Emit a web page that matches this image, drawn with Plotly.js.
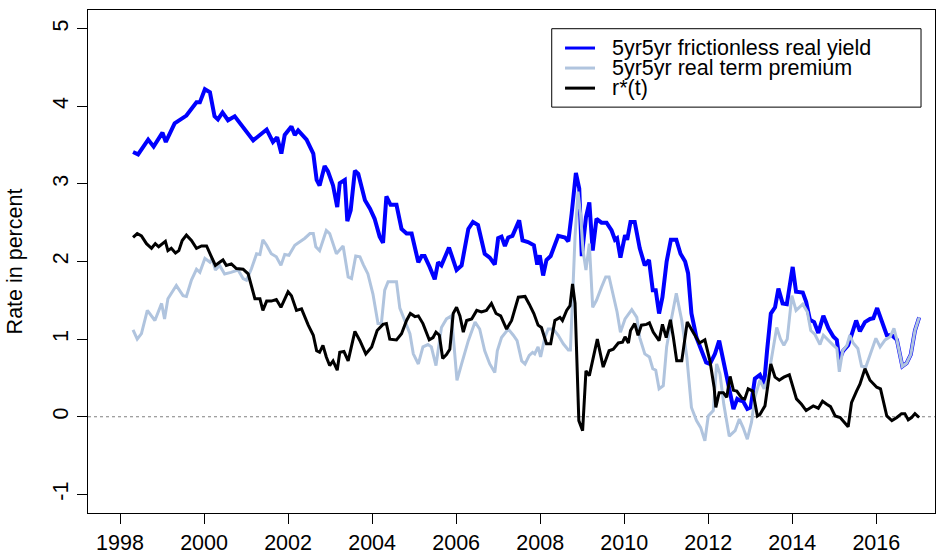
<!DOCTYPE html>
<html>
<head>
<meta charset="utf-8">
<script src="https://cdn.plot.ly/plotly-3.0.1.min.js"></script>
<style>html,body{margin:0;padding:0;background:#fff;}#chart{width:940px;height:550px;}</style>
</head>
<body>
<div id="chart"></div>
<script>
// ---- data (decimal years, percent) ----
var yieldDates = [1998.31,1998.43,1998.67,1998.80,1999.01,1999.09,1999.30,1999.58,1999.82,1999.90,2000.02,2000.14,2000.25,2000.33,2000.44,2000.57,2000.73,2000.93,2001.17,2001.49,2001.64,2001.74,2001.84,2001.92,2002.08,2002.16,2002.24,2002.44,2002.60,2002.68,2002.75,2002.87,2002.95,2003.07,2003.17,2003.23,2003.35,2003.41,2003.49,2003.59,2003.67,2003.83,2003.95,2004.06,2004.18,2004.26,2004.34,2004.44,2004.58,2004.70,2004.82,2004.94,2005.10,2005.18,2005.25,2005.37,2005.49,2005.57,2005.65,2005.83,2006.01,2006.13,2006.29,2006.40,2006.52,2006.68,2006.80,2006.92,2007.00,2007.08,2007.16,2007.24,2007.34,2007.50,2007.58,2007.71,2007.85,2007.93,2007.99,2008.07,2008.15,2008.25,2008.43,2008.59,2008.67,2008.75,2008.85,2008.93,2008.99,2009.09,2009.17,2009.25,2009.34,2009.46,2009.58,2009.70,2009.78,2009.83,2009.91,2010.02,2010.07,2010.15,2010.25,2010.37,2010.49,2010.59,2010.68,2010.75,2010.83,2010.91,2011.01,2011.11,2011.24,2011.34,2011.45,2011.52,2011.60,2011.72,2011.84,2011.95,2012.04,2012.16,2012.26,2012.34,2012.42,2012.50,2012.60,2012.69,2012.75,2012.83,2012.93,2013.01,2013.11,2013.23,2013.33,2013.40,2013.49,2013.59,2013.67,2013.77,2013.87,2014.01,2014.09,2014.25,2014.33,2014.42,2014.52,2014.62,2014.74,2014.86,2014.98,2015.06,2015.12,2015.21,2015.33,2015.41,2015.52,2015.61,2015.73,2015.85,2015.93,2016.02,2016.13,2016.25,2016.37,2016.49,2016.62,2016.72,2016.82,2016.92,2017.02];
var yieldValues = [3.41,3.38,3.57,3.48,3.66,3.54,3.78,3.88,4.05,4.05,4.22,4.18,3.87,3.83,3.92,3.82,3.87,3.72,3.56,3.70,3.54,3.60,3.39,3.63,3.74,3.63,3.69,3.57,3.39,3.05,2.98,3.23,3.16,2.98,2.70,3.01,3.05,2.52,2.66,3.17,3.13,2.79,2.68,2.55,2.32,2.24,2.84,2.73,2.73,2.42,2.36,2.36,1.99,2.07,2.07,1.93,1.77,1.99,1.95,2.18,1.89,1.95,2.42,2.51,2.47,2.10,2.05,1.96,2.30,2.32,2.20,2.31,2.33,2.53,2.27,2.25,2.21,1.96,2.08,1.82,2.02,2.07,2.33,2.31,2.26,2.62,3.14,2.94,2.07,2.57,2.76,2.14,2.55,2.50,2.50,2.40,2.28,2.30,2.05,2.34,2.28,2.51,2.51,2.17,1.95,2.02,1.63,1.63,1.33,1.54,2.00,2.28,2.28,2.10,2.00,1.85,1.33,1.02,0.85,0.70,0.68,0.81,0.98,0.77,0.51,0.34,0.10,0.23,0.21,0.20,0.10,0.12,0.49,0.54,0.42,0.85,1.33,1.41,1.65,1.46,1.45,1.93,1.61,1.60,1.48,1.25,1.22,1.08,1.30,1.14,1.03,0.99,0.73,0.85,0.92,1.05,1.24,1.10,1.22,1.26,1.27,1.40,1.22,1.05,1.05,0.99,0.65,0.69,0.80,1.11,1.28];

var premiumDates = [1998.31,1998.41,1998.51,1998.65,1998.83,1998.99,1999.06,1999.14,1999.34,1999.50,1999.58,1999.70,1999.82,1999.90,2000.02,2000.14,2000.19,2000.27,2000.37,2000.49,2000.64,2000.81,2000.93,2001.01,2001.13,2001.25,2001.33,2001.40,2001.49,2001.60,2001.72,2001.83,2001.92,2002.02,2002.16,2002.32,2002.40,2002.52,2002.60,2002.66,2002.75,2002.91,2002.99,2003.15,2003.31,2003.43,2003.51,2003.61,2003.71,2003.79,2003.90,2004.02,2004.14,2004.22,2004.30,2004.38,2004.58,2004.66,2004.78,2004.90,2004.98,2005.10,2005.21,2005.33,2005.41,2005.52,2005.65,2005.77,2005.89,2005.95,2006.02,2006.13,2006.29,2006.45,2006.56,2006.68,2006.80,2006.92,2006.98,2007.08,2007.24,2007.36,2007.45,2007.56,2007.64,2007.74,2007.82,2007.87,2007.95,2008.01,2008.11,2008.19,2008.31,2008.43,2008.55,2008.67,2008.72,2008.83,2008.90,2008.96,2009.02,2009.09,2009.17,2009.25,2009.34,2009.46,2009.56,2009.64,2009.74,2009.83,2009.91,2010.02,2010.18,2010.30,2010.37,2010.49,2010.60,2010.68,2010.75,2010.83,2010.93,2011.01,2011.13,2011.24,2011.37,2011.49,2011.60,2011.72,2011.82,2011.92,2012.00,2012.12,2012.20,2012.28,2012.37,2012.50,2012.64,2012.74,2012.83,2012.93,2013.03,2013.11,2013.23,2013.33,2013.43,2013.53,2013.63,2013.72,2013.80,2013.88,2013.99,2014.09,2014.25,2014.36,2014.44,2014.54,2014.66,2014.74,2014.86,2014.98,2015.06,2015.12,2015.20,2015.30,2015.37,2015.45,2015.56,2015.65,2015.75,2015.85,2015.99,2016.09,2016.21,2016.33,2016.42,2016.49,2016.62,2016.72,2016.82,2016.92,2017.02];
var premiumValues = [1.12,1.00,1.07,1.37,1.24,1.46,1.26,1.52,1.69,1.56,1.55,1.76,1.90,1.86,2.04,1.99,2.04,1.89,1.95,1.84,1.86,1.89,1.78,1.76,1.91,2.10,2.09,2.28,2.21,2.10,2.06,1.95,2.09,2.08,2.21,2.27,2.30,2.36,2.36,2.19,2.14,2.40,2.36,2.10,2.20,1.80,1.78,2.07,2.06,1.96,1.84,1.58,1.20,1.20,1.63,1.74,1.74,1.40,1.24,1.07,0.81,0.68,0.90,0.93,0.90,0.66,1.15,1.26,1.30,0.90,0.47,0.68,0.98,1.22,1.13,0.85,0.68,0.57,0.85,1.02,1.13,1.05,0.98,0.72,0.68,0.79,0.83,0.81,0.90,0.77,1.02,1.13,1.13,1.05,0.94,0.86,0.86,2.32,2.90,2.62,2.14,1.89,2.23,1.41,1.50,1.67,1.80,1.80,1.54,1.35,1.09,1.26,1.38,1.28,1.02,0.81,0.77,0.62,0.60,0.36,0.40,0.90,1.28,1.59,1.24,0.77,0.12,-0.05,-0.14,-0.31,0.01,0.08,0.68,0.55,0.16,-0.25,-0.18,-0.03,-0.14,-0.29,-0.07,0.25,0.47,0.36,0.51,0.81,1.15,1.00,0.92,1.00,1.56,1.37,1.45,1.35,1.11,1.06,0.93,1.05,0.98,0.92,0.88,0.58,0.85,0.92,1.05,0.95,0.88,0.65,0.64,0.79,1.01,0.90,0.99,1.03,1.14,0.99,0.65,0.69,0.80,1.11,1.28];

var rstarDates = [1998.31,1998.41,1998.51,1998.63,1998.75,1998.84,1998.92,1999.08,1999.14,1999.22,1999.32,1999.40,1999.48,1999.58,1999.70,1999.82,1999.94,2000.06,2000.16,2000.27,2000.37,2000.45,2000.53,2000.65,2000.77,2000.93,2001.05,2001.13,2001.21,2001.33,2001.40,2001.49,2001.60,2001.72,2001.83,2002.00,2002.08,2002.20,2002.32,2002.48,2002.60,2002.68,2002.75,2002.83,2002.91,2002.99,2003.07,2003.17,2003.23,2003.33,2003.43,2003.59,2003.71,2003.85,2003.99,2004.12,2004.26,2004.34,2004.42,2004.58,2004.70,2004.82,2004.91,2005.02,2005.10,2005.21,2005.36,2005.45,2005.52,2005.60,2005.68,2005.77,2005.85,2005.93,2006.01,2006.09,2006.17,2006.25,2006.37,2006.49,2006.60,2006.72,2006.84,2006.95,2007.06,2007.20,2007.32,2007.48,2007.64,2007.74,2007.85,2007.95,2008.03,2008.15,2008.25,2008.35,2008.47,2008.53,2008.63,2008.71,2008.77,2008.83,2008.88,2008.92,2009.01,2009.09,2009.17,2009.36,2009.50,2009.64,2009.74,2009.86,2009.96,2010.02,2010.10,2010.15,2010.25,2010.33,2010.41,2010.53,2010.60,2010.69,2010.83,2010.91,2011.00,2011.10,2011.17,2011.25,2011.37,2011.50,2011.64,2011.79,2011.92,2012.04,2012.14,2012.18,2012.26,2012.36,2012.44,2012.52,2012.60,2012.68,2012.80,2012.87,2012.95,2013.06,2013.17,2013.23,2013.35,2013.49,2013.59,2013.69,2013.80,2013.93,2014.10,2014.22,2014.33,2014.50,2014.62,2014.72,2014.82,2014.91,2015.02,2015.14,2015.33,2015.41,2015.53,2015.61,2015.73,2015.85,2016.01,2016.10,2016.25,2016.37,2016.49,2016.60,2016.68,2016.76,2016.84,2016.92,2017.02];
var rstarValues = [2.31,2.36,2.33,2.23,2.17,2.23,2.19,2.26,2.14,2.17,2.11,2.14,2.27,2.34,2.27,2.17,2.20,2.20,2.08,1.95,1.99,2.02,1.95,1.97,1.91,1.90,1.84,1.69,1.52,1.52,1.37,1.49,1.49,1.51,1.41,1.61,1.56,1.37,1.39,1.18,1.05,0.85,0.83,0.92,0.77,0.66,0.72,0.60,0.83,0.84,0.72,1.10,0.98,0.81,0.90,1.11,1.19,1.20,1.00,0.99,1.07,1.24,1.33,1.29,1.30,1.20,0.99,1.02,1.09,1.05,0.75,0.80,0.87,1.33,1.41,1.30,1.09,1.24,1.26,1.37,1.35,1.37,1.46,1.33,1.30,1.13,1.24,1.54,1.55,1.45,1.33,1.18,1.15,0.94,0.94,1.24,1.28,1.24,1.37,1.43,1.71,1.46,0.64,-0.05,-0.18,0.59,0.53,1.00,0.64,0.85,0.87,0.95,0.96,1.03,0.95,1.11,1.20,1.05,1.18,1.19,1.21,1.09,0.98,1.19,1.02,1.25,1.02,0.72,0.72,1.22,1.09,0.95,0.99,0.72,0.38,0.12,0.31,0.31,0.25,0.52,0.34,0.33,0.24,0.23,0.36,0.33,0.01,0.03,0.14,0.68,0.51,0.47,0.51,0.54,0.23,0.16,0.08,0.14,0.11,0.20,0.16,0.13,0.01,-0.01,-0.13,0.18,0.33,0.42,0.62,0.47,0.38,0.36,0.01,-0.05,-0.01,0.04,0.04,-0.04,-0.01,0.04,-0.01];

var seriesNames = ['5yr5yr frictionless real yield', '5yr5yr real term premium', 'r*(t)'];
var seriesColors = ['#0000FF', '#B0C4DE', '#000000'];
var seriesWidths = [4, 3, 3];
var xTickVals = [1998, 2000, 2002, 2004, 2006, 2008, 2010, 2012, 2014, 2016];
var yTickVals = [-1, 0, 1, 2, 3, 4, 5];

var FONT = 'Liberation Sans, Arial, Helvetica, sans-serif';
var FS = 21.5;

var traces = [
  {x: yieldDates, y: yieldValues},
  {x: premiumDates, y: premiumValues},
  {x: rstarDates, y: rstarValues}
].map(function (d, i) {
  return {
    x: d.x, y: d.y, type: 'scatter', mode: 'lines', name: seriesNames[i],
    line: {color: seriesColors[i], width: seriesWidths[i], shape: 'linear'},
    showlegend: false, hoverinfo: 'x+y+name'
  };
});

// manual R-style legend (paper coordinates)
var lgX0 = 0.5475, lgX1 = 0.9835, lgY0 = 0.8069, lgY1 = 0.9628;
var lgRows = [0.9244, 0.8846, 0.8447];
var shapes = [
  {type: 'line', xref: 'paper', yref: 'y', x0: 0, x1: 1, y0: 0, y1: 0,
   line: {color: '#808080', width: 1, dash: 'dot'}, layer: 'below'},
  {type: 'rect', xref: 'paper', yref: 'paper', x0: lgX0, x1: lgX1, y0: lgY0, y1: lgY1,
   line: {color: '#000000', width: 1}, fillcolor: 'rgba(255,255,255,1)'}
];
var annotations = [];
for (var i = 0; i < 3; i++) {
  shapes.push({type: 'line', xref: 'paper', yref: 'paper', x0: 0.5632, x1: 0.5986,
    y0: lgRows[i], y1: lgRows[i], line: {color: seriesColors[i], width: 3}});
  annotations.push({xref: 'paper', yref: 'paper', x: 0.6163, y: lgRows[i],
    xanchor: 'left', yanchor: 'middle', showarrow: false, text: seriesNames[i],
    font: {family: FONT, size: FS, color: '#000'}});
}

var layout = {
  width: 940, height: 550,
  margin: {l: 88, r: 5, t: 10, b: 37, pad: 0},
  paper_bgcolor: '#fff', plot_bgcolor: '#fff',
  font: {family: FONT, size: FS, color: '#000'},
  showlegend: false,
  xaxis: {
    range: [1997.238, 2017.397], tickvals: xTickVals, ticktext: xTickVals.map(String),
    ticks: 'outside', ticklen: 10, tickwidth: 1, tickcolor: '#000',
    showline: true, mirror: true, linecolor: '#000', linewidth: 1,
    showgrid: false, zeroline: false, automargin: false,
    tickfont: {family: FONT, size: FS, color: '#000'}
  },
  yaxis: {
    range: [-1.24, 5.24], tickvals: yTickVals, ticktext: yTickVals.map(String),
    tickangle: -90,
    ticks: 'outside', ticklen: 10, tickwidth: 1, tickcolor: '#000',
    showline: true, mirror: true, linecolor: '#000', linewidth: 1,
    showgrid: false, zeroline: false, automargin: false,
    tickfont: {family: FONT, size: FS, color: '#000'},
    title: {text: 'Rate in percent', font: {family: FONT, size: FS, color: '#000'}, standoff: 20}
  },
  shapes: shapes,
  annotations: annotations
};

Plotly.newPlot('chart', traces, layout, {displayModeBar: false, staticPlot: true});
</script>
</body>
</html>
